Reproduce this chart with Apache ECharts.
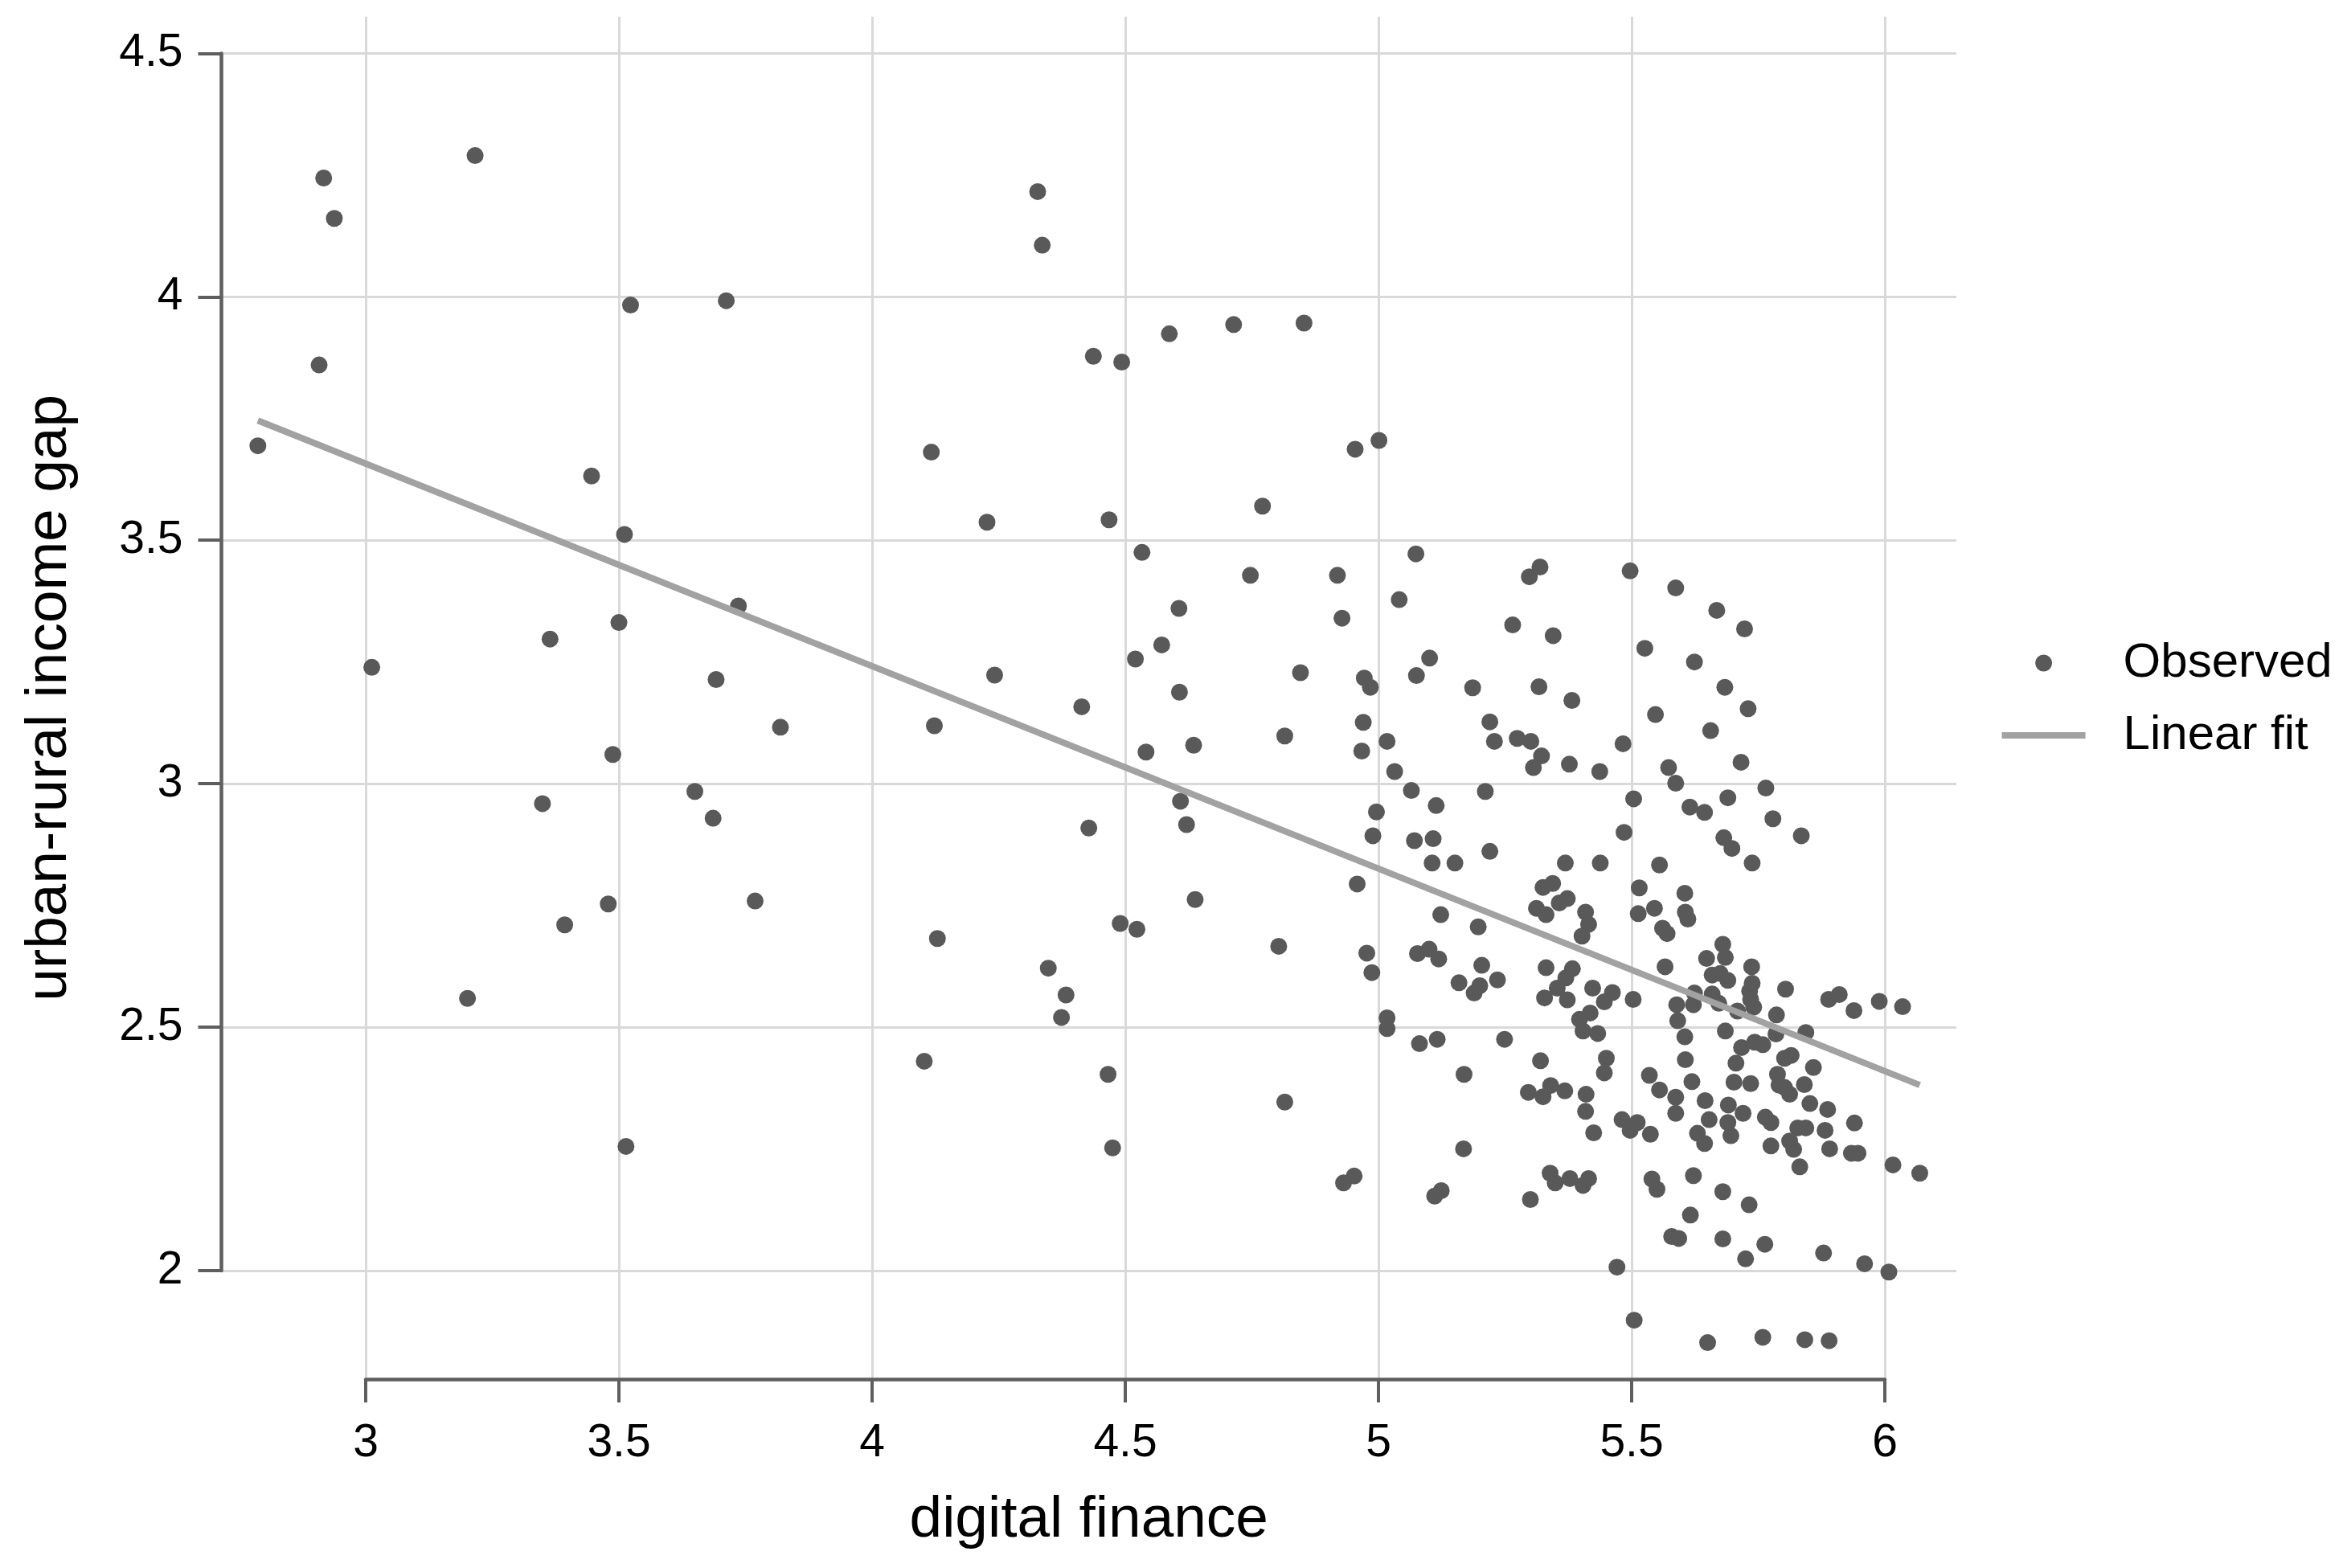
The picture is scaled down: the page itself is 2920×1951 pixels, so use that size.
<!DOCTYPE html>
<html>
<head>
<meta charset="utf-8">
<script src="https://cdn.jsdelivr.net/npm/echarts@6/dist/echarts.min.js"></script>
<style>
  html, body { margin: 0; padding: 0; background: #ffffff; }
  #chart { width: 2920px; height: 1951px; }
</style>
</head>
<body>
<div id="chart"></div>
<script>
// ---------- data ----------
const digitalFinance = [
  2.787,2.917,2.938,2.908,3.012,3.216,3.201,3.446,3.511,3.523,3.364,3.500,3.349,3.488,3.393,3.479,3.514,3.712,3.736,3.692,3.819,3.650,3.686,3.769,
  4.327,4.336,4.117,4.227,4.242,4.123,4.437,4.493,4.587,4.714,4.853,4.129,4.103,4.348,4.383,4.374,4.490,4.523,4.638,4.466,4.475,4.803,4.815,4.954,5.001,
  4.468,4.771,4.533,4.747,4.606,4.572,4.520,4.846,4.607,4.414,4.815,4.635,4.541,4.609,4.621,4.428,
  4.919,5.074,5.319,5.298,5.497,5.041,4.928,5.265,5.345,5.526,5.101,5.075,4.972,4.984,5.186,5.317,5.382,4.970,5.220,5.017,
  5.229,5.274,5.301,4.967,5.483,5.322,5.306,5.377,5.437,5.032,5.065,5.211,5.114,5.504,4.996,4.989,5.071,5.108,5.220,5.485,
  5.587,5.668,5.723,5.624,5.684,5.730,5.547,5.656,5.716,5.573,5.587,5.765,5.690,5.615,5.644,5.779,5.835,5.682,5.698,
  5.106,5.151,5.369,5.438,4.958,5.325,5.344,5.357,5.373,5.312,5.331,5.409,5.415,5.402,5.515,5.513,5.123,5.197,4.977,4.987,
  5.077,5.100,5.119,5.204,5.159,5.200,5.189,5.235,5.331,5.383,5.370,5.353,5.328,5.373,5.423,5.462,5.446,5.503,5.418,5.397,
  5.404,5.433,5.017,5.017,5.081,5.116,5.249,5.320,5.450,5.446,5.535,5.169,5.296,5.325,5.340,5.368,5.410,5.409,5.481,5.497,
  5.511,5.537,5.425,5.168,
  4.931,4.952,5.111,5.124,5.300,5.339,5.349,5.378,5.404,5.415,5.471,5.505,5.540,
  5.555,5.738,5.605,5.545,5.606,5.611,5.561,5.570,5.680,5.685,5.648,5.566,5.737,5.659,5.675,5.690,5.738,5.733,5.735,5.741,
  5.804,5.624,5.622,5.659,5.672,5.589,5.591,5.709,5.786,5.785,5.889,5.910,5.939,5.989,6.035,5.844,5.685,5.605,5.717,5.743,
  5.759,5.802,5.815,5.606,5.706,5.859,5.788,5.791,5.802,5.812,5.619,5.702,5.735,5.841,5.555,5.587,5.587,5.645,5.691,5.720,
  5.852,5.887,5.764,5.775,5.653,5.690,5.696,5.828,5.844,5.882,5.940,5.630,5.644,5.775,5.812,5.820,5.891,5.934,5.947,5.832,
  6.016,6.069,5.622,
  5.550,5.680,5.732,5.616,5.579,5.593,5.680,5.763,5.725,5.879,5.960,6.008,5.650,5.759,5.842,5.890
];
const incomeGap = [
  3.694,4.244,4.161,3.860,3.239,4.290,2.559,3.632,3.512,3.983,3.297,3.331,2.959,3.060,2.710,2.753,2.255,3.992,3.365,3.214,3.116,2.984,2.929,2.759,
  4.216,4.106,3.681,3.537,3.223,3.119,3.878,3.866,3.924,3.943,3.946,2.682,2.430,2.621,2.566,2.520,2.713,2.701,2.762,2.403,2.252,2.666,2.346,3.687,3.705,
  3.542,3.570,3.475,3.428,3.360,3.285,3.256,3.228,3.188,3.158,3.098,3.079,3.065,2.964,2.916,2.909,
  3.428,3.472,3.445,3.425,3.437,3.378,3.340,3.326,3.304,3.278,3.258,3.222,3.217,3.198,3.197,3.199,3.171,3.126,3.127,3.087,
  3.087,3.093,3.087,3.067,3.082,3.057,3.033,3.040,3.025,3.025,2.986,2.984,2.955,2.969,2.942,2.893,2.883,2.887,2.861,2.900,
  3.402,3.356,3.318,3.250,3.198,3.154,3.142,3.109,3.044,3.033,3.001,2.991,2.971,2.952,2.941,2.928,2.893,2.889,2.867,
  2.837,2.837,2.837,2.837,2.794,2.787,2.795,2.755,2.764,2.744,2.731,2.736,2.711,2.687,2.786,2.733,2.731,2.706,2.652,2.612,
  2.651,2.660,2.640,2.627,2.591,2.585,2.570,2.597,2.622,2.620,2.601,2.580,2.560,2.556,2.580,2.571,2.552,2.557,2.529,2.516,
  2.492,2.487,2.519,2.497,2.466,2.475,2.475,2.431,2.436,2.406,2.401,2.403,2.366,2.357,2.380,2.369,2.362,2.327,2.310,2.288,
  2.304,2.280,2.283,2.250,
  2.180,2.194,2.153,2.164,2.146,2.200,2.180,2.189,2.175,2.189,2.007,1.898,2.188,
  2.833,2.837,2.775,2.744,2.736,2.722,2.703,2.692,2.670,2.643,2.641,2.624,2.624,2.607,2.610,2.596,2.590,2.574,2.557,2.541,
  2.578,2.570,2.546,2.568,2.549,2.546,2.513,2.533,2.525,2.486,2.557,2.567,2.534,2.553,2.542,2.489,2.492,2.480,2.458,2.469,
  2.464,2.436,2.442,2.433,2.426,2.417,2.403,2.381,2.376,2.362,2.388,2.387,2.384,2.382,2.371,2.356,2.323,2.349,2.340,2.323,
  2.343,2.331,2.315,2.304,2.310,2.304,2.277,2.293,2.293,2.288,2.303,2.282,2.261,2.256,2.266,2.249,2.250,2.241,2.241,2.213,
  2.217,2.200,2.195,
  2.167,2.162,2.135,2.114,2.070,2.066,2.065,2.054,2.024,2.036,2.014,1.997,1.852,1.863,1.858,1.856
];
// Linear fit endpoints (as drawn in the reference)
const fitX = [2.787, 6.069];
const fitY = [3.746, 2.381];
// Axis ticks
const xTicks = [3, 3.5, 4, 4.5, 5, 5.5, 6];
const yTicks = [2, 2.5, 3, 3.5, 4, 4.5];
const seriesNames = ['Observed', 'Linear fit'];
const axisTitles = { x: 'digital finance', y: 'urban-rural income gap' };

// ---------- layout ----------
const FONT = '"Liberation Sans", Arial, Helvetica, sans-serif';
const plot = { left: 275.5, right: 2434, top: 20.7, bottom: 1716 };
const xTickPx = { first: 455, last: 2345 };
const yTickPx = { first: 1580.9, last: 66.4 };
const xUnit = (xTickPx.last - xTickPx.first) / (xTicks[xTicks.length - 1] - xTicks[0]);
const yUnit = (yTickPx.first - yTickPx.last) / (yTicks[yTicks.length - 1] - yTicks[0]);
const xMin = xTicks[0] - (xTickPx.first - plot.left) / xUnit;
const xMax = xTicks[xTicks.length - 1] + (plot.right - xTickPx.last) / xUnit;
const yMax = yTicks[yTicks.length - 1] + (yTickPx.last - plot.top) / yUnit;
const yMin = yTicks[0] - (plot.bottom - yTickPx.first) / yUnit;

const points = digitalFinance.map((x, i) => [x, incomeGap[i]]);
const fitLine = fitX.map((x, i) => [x, fitY[i]]);

const AXIS_COLOR = '#5e5e5e';
const GRID_COLOR = '#d9d9d9';
const DOT_COLOR = '#595959';
const LINE_COLOR = '#a2a2a2';

const chart = echarts.init(document.getElementById('chart'), null, { renderer: 'canvas' });
chart.setOption({
  animation: false,
  backgroundColor: '#ffffff',
  textStyle: { fontFamily: FONT },
  grid: [
    { left: plot.left, top: plot.top, width: plot.right - plot.left, height: plot.bottom - plot.top, containLabel: false },
    { left: xTickPx.first, top: plot.top, width: xTickPx.last - xTickPx.first, height: plot.bottom - plot.top, containLabel: false },
    { left: plot.left, top: yTickPx.last, width: plot.right - plot.left, height: yTickPx.first - yTickPx.last, containLabel: false }
  ],
  xAxis: [
    {
      gridIndex: 0, type: 'value', min: xMin, max: xMax,
      axisLine: { show: false }, axisTick: { show: false }, axisLabel: { show: false }, splitLine: { show: false },
      name: axisTitles.x, nameLocation: 'middle', nameGap: 139,
      nameTextStyle: { fontSize: 73, lineHeight: 73, color: '#000000', fontFamily: FONT }
    },
    {
      gridIndex: 1, type: 'value', min: xTicks[0], max: xTicks[xTicks.length - 1], interval: xTicks[1] - xTicks[0],
      axisLine: { show: true, onZero: false, lineStyle: { color: AXIS_COLOR, width: 4.5 } },
      axisTick: { show: true, inside: false, length: 29, lineStyle: { color: AXIS_COLOR, width: 4 } },
      axisLabel: { show: true, margin: 52, fontSize: 57, lineHeight: 57, color: '#000000', fontFamily: FONT },
      splitLine: { show: true, lineStyle: { color: GRID_COLOR, width: 3 } }
    },
    { gridIndex: 2, type: 'value', min: 0, max: 1, show: false }
  ],
  yAxis: [
    {
      gridIndex: 0, type: 'value', min: yMin, max: yMax,
      axisLine: { show: false }, axisTick: { show: false }, axisLabel: { show: false }, splitLine: { show: false },
      name: axisTitles.y, nameLocation: 'middle', nameGap: 177,
      nameTextStyle: { fontSize: 73, lineHeight: 73, color: '#000000', fontFamily: FONT }
    },
    { gridIndex: 1, type: 'value', min: 0, max: 1, show: false },
    {
      gridIndex: 2, type: 'value', min: yTicks[0], max: yTicks[yTicks.length - 1], interval: yTicks[1] - yTicks[0],
      axisLine: { show: true, onZero: false, lineStyle: { color: AXIS_COLOR, width: 4.5 } },
      axisTick: { show: true, inside: false, length: 29, lineStyle: { color: AXIS_COLOR, width: 4 } },
      axisLabel: { show: true, margin: 48, fontSize: 57, color: '#000000', fontFamily: FONT },
      splitLine: { show: true, lineStyle: { color: GRID_COLOR, width: 3 } }
    }
  ],
  legend: {
    orient: 'vertical',
    left: 2490.6,
    top: 795,
    padding: 0,
    itemWidth: 104,
    itemHeight: 21,
    itemGap: 30,
    selectedMode: false,
    textStyle: { fontSize: 60, lineHeight: 60, color: '#000000', fontFamily: FONT, padding: [0, 0, 0, 42] },
    data: [
      { name: seriesNames[0], icon: 'circle' },
      { name: seriesNames[1], icon: 'path://M0 0H104V8H0Z' }
    ]
  },
  series: [
    {
      name: seriesNames[0], type: 'scatter', xAxisIndex: 0, yAxisIndex: 0,
      data: points, symbol: 'circle', symbolSize: 21,
      itemStyle: { color: DOT_COLOR, opacity: 1 }, z: 3
    },
    {
      name: seriesNames[1], type: 'line', xAxisIndex: 0, yAxisIndex: 0,
      data: fitLine, symbol: 'none', showSymbol: false,
      lineStyle: { color: LINE_COLOR, width: 8, cap: 'butt' },
      itemStyle: { color: LINE_COLOR }, z: 4
    }
  ]
});
</script>
</body>
</html>
